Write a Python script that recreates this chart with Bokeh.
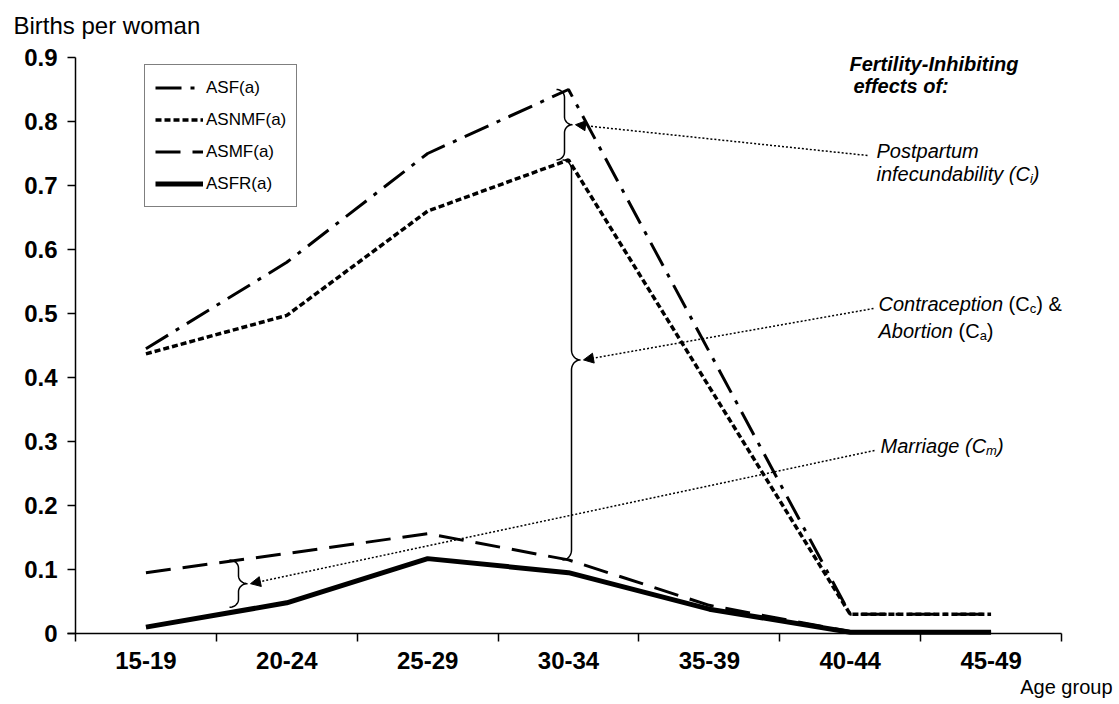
import numpy as np
from bokeh.plotting import figure
from bokeh.models import (FixedTicker, Legend, LegendItem, Label, Arrow,
                          NormalHead, Range1d)
from bokeh.embed import file_html
from bokeh.resources import INLINE

# ---------------- data ----------------
categories = ["15-19", "20-24", "25-29", "30-34", "35-39", "40-44", "45-49"]
asf = [0.445, 0.58, 0.75, 0.85, 0.44, 0.03, 0.03]       # ASF(a)
asnmf = [0.437, 0.497, 0.66, 0.74, 0.385, 0.03, 0.03]   # ASNMF(a)
asmf = [0.095, 0.125, 0.156, 0.115, 0.044, 0.003, 0.002]  # ASMF(a)
asfr = [0.01, 0.048, 0.117, 0.095, 0.038, 0.002, 0.002]   # ASFR(a)
y_ticks = [0, 0.1, 0.2, 0.3, 0.4, 0.5, 0.6, 0.7, 0.8, 0.9]
y_tick_labels = ["0", "0.1", "0.2", "0.3", "0.4", "0.5", "0.6", "0.7", "0.8", "0.9"]

FONT = "Liberation Sans"

# ---------------- layout ----------------
W, H = 1115, 700
AX_L, AX_R, AX_T, AX_B = 75, 1061, 57, 633   # pixel box of the axes
n = len(categories)
YMAX = y_ticks[-1]
centers = [i + 0.5 for i in range(n)]
bounds = [float(i) for i in range(n + 1)]
AW_ = AX_R - AX_L
AH_ = AX_B - AX_T


def dx(px):
    return (px - AX_L) / AW_ * n


def dy(py):
    return (AX_B - py) / AH_ * YMAX


# the frame covers the whole canvas; axes are pinned at x=0 / y=0
p = figure(width=W, height=H, output_backend="svg", toolbar_location=None,
           x_range=Range1d(dx(0), dx(W)), y_range=Range1d(dy(H), dy(0)),
           min_border=0, min_border_left=0, min_border_right=0,
           min_border_top=0, min_border_bottom=0, title=None)
p.outline_line_color = None
p.grid.visible = False
p.background_fill_color = "white"
p.border_fill_color = "white"

# x axis
xa = p.xaxis[0]
xa.fixed_location = 0
xa.bounds = (dx(AX_L - 8), n)
xa.ticker = FixedTicker(ticks=centers, minor_ticks=bounds)
xa.major_label_overrides = {c: lab for c, lab in zip(centers, categories)}
xa.major_tick_out = 0
xa.major_tick_in = 0
xa.minor_tick_out = 8
xa.minor_tick_in = 0
xa.minor_tick_line_color = "black"
xa.minor_tick_line_width = 1.5
xa.axis_line_width = 1.5
xa.axis_line_color = "black"
xa.major_label_standoff = 10
xa.major_label_text_font = FONT
xa.major_label_text_font_style = "bold"
xa.major_label_text_font_size = "24px"
xa.major_label_text_color = "black"

# y axis
ya = p.yaxis[0]
ya.fixed_location = 0
ya.bounds = (0, YMAX)
ya.ticker = FixedTicker(ticks=y_ticks)
ya.major_label_overrides = {t: lab for t, lab in zip(y_ticks, y_tick_labels)}
ya.major_tick_out = 8
ya.major_tick_in = 0
ya.major_tick_line_width = 1.5
ya.minor_tick_line_color = None
ya.axis_line_width = 1.5
ya.axis_line_color = "black"
ya.major_label_standoff = 10
ya.major_label_text_font = FONT
ya.major_label_text_font_style = "bold"
ya.major_label_text_font_size = "24px"
ya.major_label_text_color = "black"

# ---------------- series ----------------
r_asf = p.line(centers, asf, line_color="black", line_width=3, line_dash="26 9 4 9")
r_asnmf = p.line(centers, asnmf, line_color="black", line_width=3.5, line_dash="6 3")
r_asmf = p.line(centers, asmf, line_color="black", line_width=3, line_dash="25 12")
r_asfr = p.line(centers, asfr, line_color="black", line_width=5)

# ---------------- braces ----------------
def brace(xs, y0, y1, wpx=9, hpx=9, tip_frac=0.5):
    w = wpx / AW_ * n
    h = hpx / AH_ * YMAX
    mid = y0 + (y1 - y0) * tip_frac
    t = np.linspace(0, np.pi / 2, 12)
    xs_all, ys_all = [], []
    xs_all += list(xs - w + w * np.sin(t)); ys_all += list(y1 - h + h * np.cos(t))
    xs_all += list(xs + w - w * np.cos(t)); ys_all += list(mid + h - h * np.sin(t))
    xs_all += list(xs + w - w * np.sin(t)); ys_all += list(mid - h + h * np.cos(t))
    xs_all += list(xs - w + w * np.cos(t)); ys_all += list(y0 + h - h * np.sin(t))
    p.line(xs_all, ys_all, line_color="black", line_width=1.5)
    return xs + w, mid


i34 = categories.index("30-34")
xb1 = centers[i34] - 4 / AW_ * n
tip1 = brace(xb1, asnmf[i34], asf[i34], wpx=8, hpx=8)
xb2 = centers[i34] + 3 / AW_ * n
tip2 = brace(xb2, asmf[i34], asnmf[i34], wpx=9, hpx=10)
xb3 = dx(238)
tip3 = brace(xb3, float(np.interp(xb3, centers, asfr)) + 0.006,
             float(np.interp(xb3, centers, asmf)), wpx=9, hpx=8)

# ---------------- texts ----------------
AW = {' ': 278, '(': 333, ')': 333, '&': 667, 'C': 722, 'A': 667, 'P': 667,
      'M': 833, 'a': 556, 'b': 556, 'c': 500, 'd': 556, 'e': 556, 'f': 278,
      'g': 556, 'i': 222, 'l': 222, 'm': 833, 'n': 556, 'o': 556, 'p': 556,
      'r': 333, 's': 500, 't': 278, 'u': 556, 'y': 500}


def seg_width(s, size):
    return sum(AW.get(ch, 556) for ch in s) * size / 1000.0


def rich_line(px, py, pieces):
    cur = px
    for text, style, size, shift in pieces:
        stripped = text.lstrip(" ")
        cur += seg_width(text[:len(text) - len(stripped)], size)
        p.add_layout(Label(x=dx(cur), y=dy(py + shift), text=stripped,
                           text_font=FONT, text_font_size=f"{size}px",
                           text_font_style=style, text_align="left",
                           text_baseline="middle", text_color="black"))
        cur += seg_width(stripped, size)


def label(px, py, text, size, style="normal", align="left"):
    p.add_layout(Label(x=dx(px), y=dy(py), text=text, text_font=FONT,
                       text_font_size=f"{size}px", text_font_style=style,
                       text_align=align, text_baseline="middle",
                       text_color="black"))


label(13, 25, "Births per woman", 24, "normal")
label(1112, 686, "Age group", 20, "normal", align="right")

label(849, 63, "Fertility-Inhibiting", 20, "bold italic")
label(853, 85, "effects of:", 20, "bold italic")

rich_line(876, 150, [("Postpartum", "italic", 20, 0)])
rich_line(876, 173, [("infecundability (C", "italic", 20, 0),
                     ("i", "italic", 13, 5), (")", "italic", 20, 0)])
rich_line(878, 303, [("Contraception", "italic", 20, 0), (" (C", "normal", 20, 0),
                     ("c", "normal", 13, 5), (") &", "normal", 20, 0)])
rich_line(878, 330, [("Abortion", "italic", 20, 0), (" (C", "normal", 20, 0),
                     ("a", "normal", 13, 5), (")", "normal", 20, 0)])
rich_line(880, 445, [("Marriage (C", "italic", 20, 0),
                     ("m", "italic", 13, 5), (")", "italic", 20, 0)])

# ---------------- arrows ----------------
gap = 3 / AW_ * n
for (sx, sy), (ex, ey) in [((867, 155), tip1), ((873, 308), tip2), ((874, 450), tip3)]:
    p.add_layout(Arrow(x_start=dx(sx), y_start=dy(sy), x_end=ex + gap, y_end=ey,
                       line_color="black", line_width=1.5, line_dash="2 2",
                       end=NormalHead(size=10, fill_color="black",
                                      line_color="black", line_width=1)))

# ---------------- legend ----------------
legend = Legend(items=[LegendItem(label="ASF(a)", renderers=[r_asf]),
                       LegendItem(label="ASNMF(a)", renderers=[r_asnmf]),
                       LegendItem(label="ASMF(a)", renderers=[r_asmf]),
                       LegendItem(label="ASFR(a)", renderers=[r_asfr])],
                location=(144, H - 207))
legend.border_line_color = "black"
legend.border_line_width = 1
legend.background_fill_color = "white"
legend.background_fill_alpha = 1
legend.label_text_font = FONT
legend.label_text_font_size = "17px"
legend.label_text_color = "black"
legend.glyph_width = 48
legend.glyph_height = 25
legend.label_height = 25
legend.spacing = 7
legend.padding = 10
legend.margin = 0
legend.label_standoff = 3
p.add_layout(legend)

open("out.html", "w").write(file_html(p, INLINE))
